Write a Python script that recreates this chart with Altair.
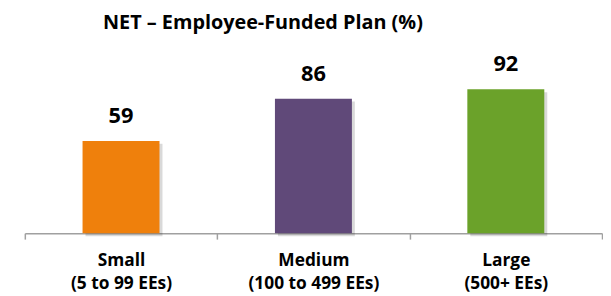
import altair as alt
import pandas as pd

categories = ["Small", "Medium", "Large"]
sublabels = ["(5 to 99 EEs)", "(100 to 499 EEs)", "(500+ EEs)"]
values = [59, 86, 92]
colors = ["#EF800C", "#604979", "#6BA22A"]

df = pd.DataFrame({"cat": categories, "val": values, "color": colors})

label_map = "{" + ",".join(f"'{c}':'{s}'" for c, s in zip(categories, sublabels)) + "}"

FONT = "Open Sans"

x = alt.X(
    "cat:N",
    sort=categories,
    title=None,
    scale=alt.Scale(paddingInner=0, paddingOuter=0),
    axis=alt.Axis(
        labelExpr=f"[datum.value, {label_map}[datum.value]]",
        labelAngle=0,
        labelFont=FONT,
        labelFontWeight="bold",
        labelFontSize=17.5,
        labelColor="#000000",
        labelLineHeight=23,
        labelPadding=13,
        tickBand="extent",
        tickSize=6,
        tickColor="#a0a0a0",
        domainColor="#a0a0a0",
        domainWidth=1.5,
        tickWidth=1.5,
    ),
)
y = alt.Y("val:Q", scale=alt.Scale(domain=[0, 100]), axis=None)

shadow = alt.Chart(df).mark_bar(
    width={"band": 0.4}, color="#000000", opacity=0.15, xOffset=3, yOffset=3
).encode(x=x, y=y)

bars = alt.Chart(df).mark_bar(width={"band": 0.4}).encode(
    x=x, y=y, color=alt.Color("color:N", scale=None)
)

text = alt.Chart(df).mark_text(
    baseline="alphabetic", dy=-18, font=FONT, fontWeight="bold", fontSize=22, color="#000000"
).encode(x=x, y=y, text="val:Q")

chart = (
    alt.layer(shadow, bars, text)
    .properties(
        width=583,
        height=158,
        padding={"left": 16, "top": 3, "right": 0, "bottom": 0},
        title=alt.TitleParams(
            "NET – Employee-Funded Plan (%)",
            font=FONT,
            fontWeight="bold",
            fontSize=20,
            color="#000000",
            anchor="middle",
            dx=-51,
            offset=21,
        ),
    )
    .configure_view(stroke=None)
)

chart.save("out.html", embed_options={"renderer": "svg", "actions": False})
